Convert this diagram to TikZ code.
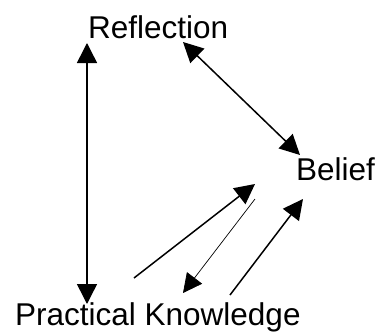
\documentclass[tikz,border=0pt]{standalone}
\usepackage{fontspec}
\setmainfont{Liberation Sans}
\usetikzlibrary{arrows.meta}
\begin{document}
\begin{tikzpicture}[x=1pt,y=-1pt,
  lbl/.style={anchor=base west,inner sep=0pt,font=\fontsize{31.5}{36}\selectfont},
  conn/.style={line width=1.5pt,-{Triangle[length=20pt,width=20pt]}},
  biconn/.style={line width=1.5pt,{Triangle[length=20pt,width=20pt]}-{Triangle[length=20pt,width=20pt]}},
  thinconn/.style={line width=0.7pt,-{Triangle[length=19pt,width=19pt]}}]
\useasboundingbox[fill=white] (0,0) rectangle (376,332);
\node[lbl] (refl) at (88,38) {Reflection};
\node[lbl] (bel) at (296,181) {Belief};
\node[lbl] (prac) at (15,325) {Practical Knowledge};
\coordinate (v1) at (87,43);
\coordinate (v2) at (87,304);
\coordinate (r1) at (183,42);
\coordinate (b1) at (300,155);
\coordinate (a1s) at (134,278);
\coordinate (a1e) at (255,184);
\coordinate (a2s) at (255,199);
\coordinate (a2e) at (183,293);
\coordinate (a3s) at (230,295);
\coordinate (a3e) at (303,199);
\draw[biconn] (v1) -- (v2);
\draw[biconn] (r1) -- (b1);
\draw[conn] (a1s) -- (a1e);
\draw[thinconn] (a2s) -- (a2e);
\draw[conn] (a3s) -- (a3e);
\end{tikzpicture}
\end{document}
